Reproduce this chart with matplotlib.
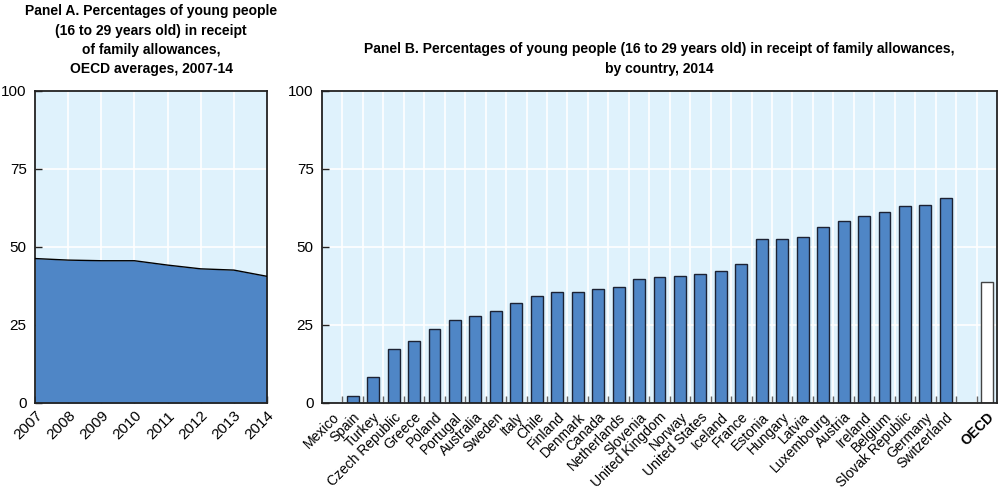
import matplotlib
matplotlib.use("Agg")
import matplotlib.pyplot as plt
from matplotlib import font_manager
import numpy as np

years = [2007, 2008, 2009, 2010, 2011, 2012, 2013, 2014]
oecd_avg = [46.3, 45.8, 45.6, 45.6, 44.2, 43.0, 42.6, 40.6]

countries = ["Mexico", "Spain", "Turkey", "Czech Republic", "Greece", "Poland",
             "Portugal", "Australia", "Sweden", "Italy", "Chile", "Finland",
             "Denmark", "Canada", "Netherlands", "Slovenia", "United Kingdom",
             "Norway", "United States", "Iceland", "France", "Estonia", "Hungary",
             "Latvia", "Luxembourg", "Austria", "Ireland", "Belgium",
             "Slovak Republic", "Germany", "Switzerland"]
values = [0.0, 2.4, 8.4, 17.4, 19.8, 23.6, 26.6, 28.0, 29.5, 31.9, 34.3, 35.6,
          35.6, 36.4, 37.1, 39.7, 40.3, 40.6, 41.5, 42.4, 44.4, 52.5, 52.6,
          53.2, 56.3, 58.2, 59.8, 61.1, 63.0, 63.5, 65.7]
oecd_label = "OECD"
oecd_value = 38.8

titleA = "Panel A. Percentages of young people\n(16 to 29 years old) in receipt\nof family allowances,\nOECD averages, 2007-14"
titleB = "Panel B. Percentages of young people (16 to 29 years old) in receipt of family allowances,\nby country, 2014"

avail = {f.name for f in font_manager.fontManager.ttflist}
fam = "Liberation Sans Narrow" if "Liberation Sans Narrow" in avail else "Liberation Sans"
plt.rcParams['font.family'] = [fam, 'DejaVu Sans']

BG = "#dff2fc"
BAR = "#4f86c6"
EDGE = "#1c2233"
SPINE = "#222222"

fig = plt.figure(figsize=(10, 4.97), dpi=100)
W, H = 1000, 497
def ax_rect(l, r, t, b):
    return [l / W, 1 - b / H, (r - l) / W, (b - t) / H]

axA = fig.add_axes(ax_rect(35, 267, 91, 403))
axB = fig.add_axes(ax_rect(322, 997, 91, 403))

TICKFS = 10
for ax in (axA, axB):
    ax.set_facecolor(BG)
    for s in ax.spines.values():
        s.set_color(SPINE)
        s.set_linewidth(1.3)
    ax.set_ylim(0, 100)
    ax.set_yticks([0, 25, 50, 75, 100])
    ax.tick_params(axis='y', direction='in', length=5, width=1, color=SPINE,
                   labelsize=TICKFS + 1, pad=6)
    ax.grid(axis='y', color='white', linewidth=1.2)
    ax.set_axisbelow(True)

# Panel A
axA.fill_between(years, oecd_avg, 0, color=BAR, zorder=2, linewidth=0)
axA.plot(years, oecd_avg, color='black', linewidth=1.0, zorder=3)
axA.set_xlim(2007, 2014)
axA.set_xticks(years)
axA.set_xticklabels([str(y) for y in years], rotation=45, ha='right',
                    rotation_mode='anchor', fontsize=TICKFS + 1)
axA.tick_params(axis='x', direction='in', length=5, width=1, color=SPINE, pad=4)
axA.grid(axis='x', color='white', linewidth=1.2)

# Panel B
n = len(countries)
xpos = np.arange(n)
axB.bar(xpos, values, width=0.58, color=BAR, edgecolor=EDGE, linewidth=1.0, zorder=2)
oecd_x = n + 1
axB.bar([oecd_x], [oecd_value], width=0.58, color='white', edgecolor='#444444',
        linewidth=1.0, zorder=2)
axB.set_xlim(-0.5, oecd_x + 0.5)
labels = countries + [oecd_label]
axB.set_xticks(list(xpos) + [oecd_x])
axB.set_xticklabels(labels, rotation=45, ha='right', rotation_mode='anchor', fontsize=TICKFS)
axB.get_xticklabels()[-1].set_fontweight('bold')
axB.tick_params(axis='x', which='major', length=0, pad=5)
minor = np.arange(0.5, oecd_x, 1.0)
axB.set_xticks(minor, minor=True)
axB.tick_params(axis='x', which='minor', direction='in', length=5, width=1, color='#666666')
axB.grid(axis='x', which='minor', color='white', linewidth=1.2)

tA = fig.text(151 / W, 1 - 4 / H, titleA, ha='center', va='top',
              fontsize=10, fontweight='bold', linespacing=1.5)
tB = fig.text(659 / W, 1 - 42 / H, titleB, ha='center', va='top',
              fontsize=10, fontweight='bold', linespacing=1.5)

# fit title width to reference widths
fig.canvas.draw()
r = fig.canvas.get_renderer()
wB = tB.get_window_extent(r).width
fsB = 10 * 590 / wB
tB.set_fontsize(fsB)
tA.set_fontsize(min(fsB, 10 * 253 / tA.get_window_extent(r).width))

fig.savefig("out.png", dpi=100)
